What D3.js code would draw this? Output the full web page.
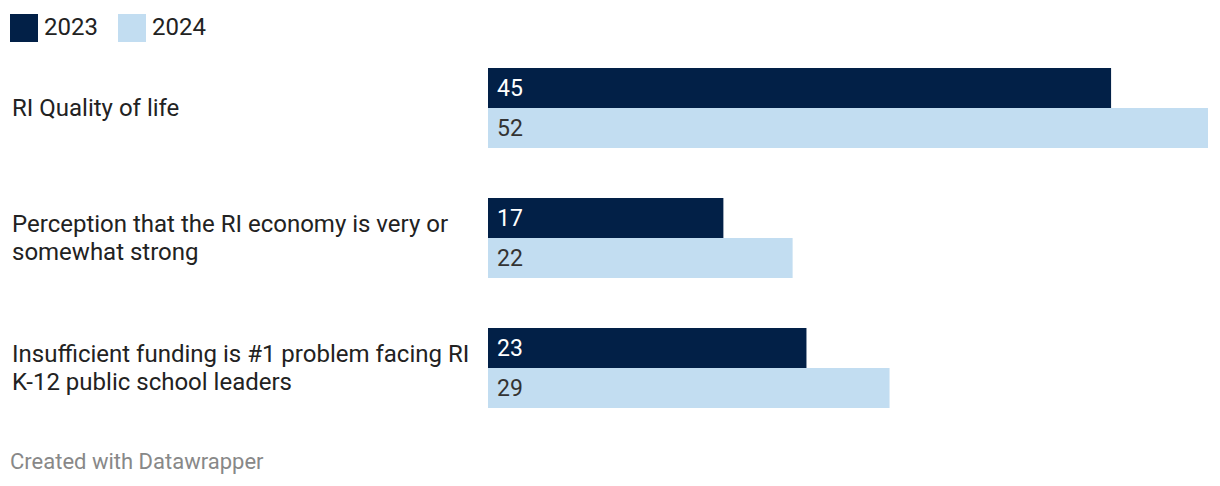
<!DOCTYPE html>
<html><head><meta charset="utf-8">
<script src="https://cdn.jsdelivr.net/npm/d3@7"></script>
<style>body{margin:0;background:#fff;font-family:Roboto,sans-serif}</style>
</head><body><svg id="c" width="1220" height="486"></svg>
<script>
const categories = [
  ["RI Quality of life"],
  ["Perception that the RI economy is very or", "somewhat strong"],
  ["Insufficient funding is #1 problem facing RI", "K-12 public school leaders"]
];
const seriesNames = ["2023", "2024"];
const values2023 = [45, 17, 23];
const values2024 = [52, 22, 29];
const colors = ["#022047", "#c2ddf1"];
const textColors = ["#ffffff", "#333333"];

const svg = d3.select("#c");
const x = d3.scaleLinear().domain([0, 52]).range([488, 1208]);
const y = d3.scaleBand().domain(d3.range(categories.length)).range([68, 408]).paddingInner(50/130).paddingOuter(0);
const ySub = d3.scaleBand().domain([0,1]).range([0, y.bandwidth()]);

// legend
const leg = svg.append("g");
let lx = 10;
seriesNames.forEach((s,i)=>{
  leg.append("rect").attr("x", lx).attr("y", 14).attr("width", 28).attr("height", 28).attr("fill", colors[i]);
  leg.append("text").attr("x", lx+34).attr("y", 27).attr("dy", "0.35em").attr("font-size", 24).attr("fill", "#222").text(s);
  lx += 108;
});

const series = [values2023, values2024];
categories.forEach((lines, ci)=>{
  const g = svg.append("g").attr("transform", `translate(0,${y(ci)})`);
  series.forEach((vals, si)=>{
    g.append("rect").attr("x", x(0)).attr("y", ySub(si)).attr("width", x(vals[ci]) - x(0))
      .attr("height", ySub.bandwidth()).attr("fill", colors[si]);
    g.append("text").attr("x", x(0)+9).attr("y", ySub(si)+ySub.bandwidth()/2).attr("dy", "0.35em")
      .attr("font-size", 23).attr("fill", textColors[si]).text(vals[ci]);
  });
  const cy = y.bandwidth()/2;
  const lh = 28;
  lines.forEach((ln, li)=>{
    g.append("text").attr("x", 12).attr("y", cy + (li - (lines.length-1)/2)*lh).attr("dy", "0.35em")
      .attr("font-size", 24).attr("fill", "#222").text(ln);
  });
});

svg.append("text").attr("x", 10).attr("y", 461).attr("dy", "0.35em").attr("font-size", 22).attr("fill", "#888").text("Created with Datawrapper");
</script></body></html>
